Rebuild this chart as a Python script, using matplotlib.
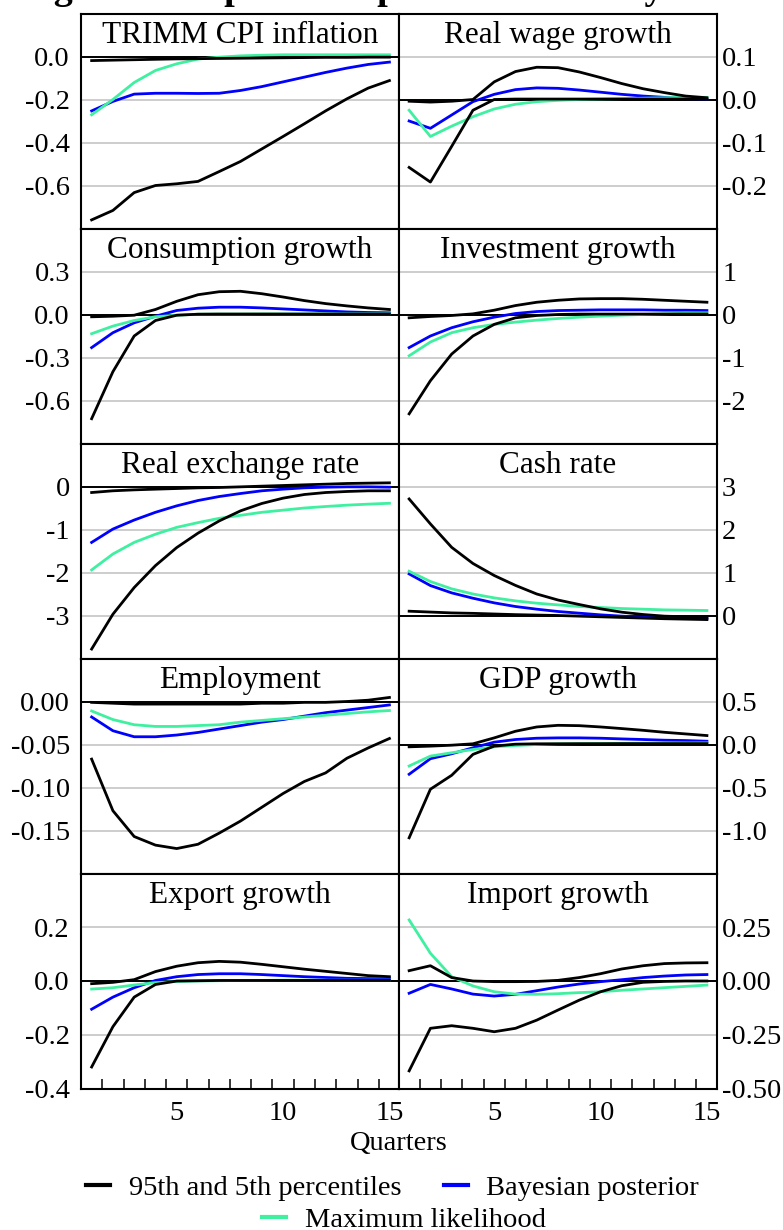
import numpy as np
import matplotlib
matplotlib.use("Agg")
import matplotlib.pyplot as plt
from matplotlib.lines import Line2D
from matplotlib.ticker import FormatStrFormatter

plt.rcParams["font.family"] = ["Liberation Serif", "DejaVu Serif"]
plt.rcParams["axes.unicode_minus"] = False

quarters = np.arange(1, 16)

# TRIMM CPI inflation
cpi_hi = [-0.019, -0.017, -0.015, -0.013, -0.011, -0.010, -0.009, -0.008, -0.007, -0.006, -0.005, -0.004, -0.004, -0.003, -0.003]
cpi_lo = [-0.76, -0.716, -0.633, -0.60, -0.592, -0.581, -0.535, -0.488, -0.43, -0.372, -0.313, -0.253, -0.197, -0.147, -0.112]
cpi_bay = [-0.253, -0.209, -0.175, -0.171, -0.171, -0.172, -0.171, -0.158, -0.14, -0.118, -0.096, -0.074, -0.054, -0.037, -0.026]
cpi_ml = [-0.271, -0.20, -0.121, -0.065, -0.034, -0.012, -0.003, 0.003, 0.006, 0.008, 0.008, 0.008, 0.008, 0.008, 0.008]

# Real wage growth
wage_hi = [-0.004, -0.006, -0.004, 0.0, 0.041, 0.065, 0.075, 0.074, 0.064, 0.051, 0.037, 0.025, 0.016, 0.008, 0.004]
wage_lo = [-0.158, -0.192, -0.109, -0.025, 0.0, 0.001, 0.001, 0.001, 0.001, 0.001, 0.001, 0.001, 0.001, 0.001, 0.001]
wage_bay = [-0.05, -0.067, -0.036, -0.005, 0.012, 0.023, 0.027, 0.026, 0.022, 0.017, 0.012, 0.008, 0.005, 0.002, 0.001]
wage_ml = [-0.025, -0.086, -0.062, -0.04, -0.022, -0.011, -0.005, -0.002, 0.0, 0.001, 0.002, 0.003, 0.004, 0.005, 0.005]

# Consumption growth
cons_hi = [-0.016, -0.012, -0.005, 0.035, 0.092, 0.138, 0.159, 0.162, 0.145, 0.122, 0.097, 0.076, 0.06, 0.046, 0.035]
cons_lo = [-0.727, -0.399, -0.15, -0.042, -0.005, 0.002, 0.003, 0.003, 0.003, 0.003, 0.003, 0.003, 0.003, 0.003, 0.003]
cons_bay = [-0.231, -0.127, -0.058, -0.012, 0.028, 0.044, 0.051, 0.051, 0.046, 0.039, 0.032, 0.025, 0.018, 0.014, 0.012]
cons_ml = [-0.134, -0.081, -0.042, -0.016, -0.005, 0.002, 0.003, 0.003, 0.004, 0.004, 0.004, 0.005, 0.005, 0.005, 0.005]

# Investment growth
inv_hi = [-0.077, -0.046, -0.023, 0.015, 0.10, 0.208, 0.285, 0.331, 0.362, 0.369, 0.369, 0.354, 0.331, 0.308, 0.285]
inv_lo = [-2.31, -1.54, -0.92, -0.50, -0.23, -0.077, -0.023, 0.0, 0.01, 0.01, 0.01, 0.01, 0.01, 0.01, 0.01]
inv_bay = [-0.77, -0.50, -0.308, -0.169, -0.062, 0.023, 0.069, 0.092, 0.10, 0.108, 0.108, 0.108, 0.10, 0.10, 0.092]
inv_ml = [-0.96, -0.64, -0.423, -0.308, -0.23, -0.177, -0.131, -0.092, -0.062, -0.038, -0.015, 0.0, 0.015, 0.03, 0.038]

# Real exchange rate
rer_hi = [-0.14, -0.10, -0.078, -0.062, -0.047, -0.031, -0.023, -0.008, 0.008, 0.023, 0.039, 0.054, 0.07, 0.078, 0.085]
rer_lo = [-3.78, -2.97, -2.35, -1.84, -1.42, -1.085, -0.80, -0.566, -0.395, -0.271, -0.186, -0.14, -0.116, -0.10, -0.10]
rer_bay = [-1.30, -0.99, -0.78, -0.60, -0.45, -0.326, -0.233, -0.163, -0.10, -0.062, -0.031, -0.016, -0.008, -0.008, -0.016]
rer_ml = [-1.94, -1.57, -1.30, -1.11, -0.95, -0.84, -0.74, -0.67, -0.60, -0.55, -0.50, -0.465, -0.434, -0.41, -0.39]

# Cash rate
cash_hi = [2.71, 2.13, 1.585, 1.21, 0.93, 0.70, 0.50, 0.36, 0.255, 0.155, 0.077, 0.023, -0.015, -0.03, -0.04]
cash_lo = [0.10, 0.08, 0.06, 0.05, 0.035, 0.02, 0.01, 0.0, -0.015, -0.03, -0.045, -0.06, -0.075, -0.085, -0.095]
cash_bay = [0.967, 0.696, 0.526, 0.402, 0.294, 0.209, 0.147, 0.093, 0.054, 0.015, -0.015, -0.039, -0.054, -0.062, -0.07]
cash_ml = [1.03, 0.79, 0.62, 0.50, 0.41, 0.34, 0.286, 0.247, 0.209, 0.186, 0.162, 0.147, 0.131, 0.124, 0.116]

# Employment
emp_hi = [-0.001, -0.002, -0.003, -0.003, -0.003, -0.003, -0.003, -0.003, -0.002, -0.002, -0.001, -0.001, 0.0, 0.0015, 0.0047]
emp_lo = [-0.067, -0.127, -0.157, -0.167, -0.171, -0.166, -0.153, -0.139, -0.123, -0.107, -0.093, -0.083, -0.066, -0.054, -0.043]
emp_bay = [-0.018, -0.034, -0.041, -0.041, -0.039, -0.036, -0.032, -0.028, -0.024, -0.021, -0.017, -0.013, -0.01, -0.007, -0.004]
emp_ml = [-0.011, -0.021, -0.027, -0.029, -0.029, -0.028, -0.027, -0.024, -0.022, -0.02, -0.018, -0.016, -0.014, -0.012, -0.0105]

# GDP growth
gdp_hi = [-0.027, -0.019, -0.008, 0.008, 0.077, 0.154, 0.204, 0.223, 0.219, 0.204, 0.185, 0.165, 0.142, 0.123, 0.104]
gdp_lo = [-1.085, -0.52, -0.358, -0.115, -0.019, 0.004, 0.008, 0.008, 0.009, 0.009, 0.01, 0.01, 0.01, 0.01, 0.01]
gdp_bay = [-0.346, -0.165, -0.108, -0.038, 0.027, 0.058, 0.073, 0.077, 0.077, 0.073, 0.065, 0.058, 0.05, 0.046, 0.038]
gdp_ml = [-0.25, -0.135, -0.096, -0.058, -0.027, -0.012, 0.0, 0.008, 0.01, 0.012, 0.013, 0.015, 0.016, 0.018, 0.019]

# Export growth
exp_hi = [-0.01, -0.005, 0.005, 0.035, 0.055, 0.068, 0.073, 0.07, 0.062, 0.053, 0.044, 0.036, 0.028, 0.02, 0.016]
exp_lo = [-0.32, -0.17, -0.06, -0.013, 0.0, 0.001, 0.002, 0.002, 0.002, 0.002, 0.002, 0.002, 0.002, 0.002, 0.002]
exp_bay = [-0.105, -0.06, -0.025, 0.002, 0.016, 0.024, 0.027, 0.027, 0.024, 0.02, 0.016, 0.013, 0.01, 0.009, 0.008]
exp_ml = [-0.03, -0.025, -0.015, -0.006, -0.002, 0.0, 0.001, 0.002, 0.002, 0.003, 0.003, 0.003, 0.003, 0.003, 0.003]

# Import growth
imp_hi = [0.048, 0.071, 0.016, 0.0, -0.003, -0.003, -0.002, 0.003, 0.016, 0.034, 0.056, 0.071, 0.081, 0.084, 0.085]
imp_lo = [-0.418, -0.22, -0.208, -0.22, -0.236, -0.22, -0.182, -0.135, -0.089, -0.05, -0.022, -0.006, -0.002, 0.0, 0.0]
imp_bay = [-0.057, -0.016, -0.037, -0.061, -0.07, -0.062, -0.045, -0.028, -0.014, -0.003, 0.006, 0.016, 0.023, 0.028, 0.03]
imp_ml = [0.284, 0.129, 0.02, -0.023, -0.05, -0.061, -0.062, -0.059, -0.054, -0.05, -0.043, -0.037, -0.031, -0.025, -0.019]

titles = ["TRIMM CPI inflation", "Real wage growth", "Consumption growth", "Investment growth",
          "Real exchange rate", "Cash rate", "Employment", "GDP growth",
          "Export growth", "Import growth"]
series = [(cpi_hi, cpi_lo, cpi_bay, cpi_ml), (wage_hi, wage_lo, wage_bay, wage_ml),
          (cons_hi, cons_lo, cons_bay, cons_ml), (inv_hi, inv_lo, inv_bay, inv_ml),
          (rer_hi, rer_lo, rer_bay, rer_ml), (cash_hi, cash_lo, cash_bay, cash_ml),
          (emp_hi, emp_lo, emp_bay, emp_ml), (gdp_hi, gdp_lo, gdp_bay, gdp_ml),
          (exp_hi, exp_lo, exp_bay, exp_ml), (imp_hi, imp_lo, imp_bay, imp_ml)]
ylims = [(-0.8, 0.2), (-0.3, 0.2), (-0.9, 0.6), (-3, 2), (-4, 1),
         (-1, 4), (-0.2, 0.05), (-1.5, 1.0), (-0.4, 0.4), (-0.5, 0.5)]
yticks = [[-0.6, -0.4, -0.2, 0.0], [-0.2, -0.1, 0.0, 0.1], [-0.6, -0.3, 0.0, 0.3],
          [-2, -1, 0, 1], [-3, -2, -1, 0], [0, 1, 2, 3],
          [-0.15, -0.10, -0.05, 0.00], [-1.0, -0.5, 0.0, 0.5],
          [-0.4, -0.2, 0.0, 0.2], [-0.50, -0.25, 0.00, 0.25]]
yfmt = ["%.1f", "%.1f", "%.1f", "%d", "%d", "%d", "%.2f", "%.1f", "%.1f", "%.2f"]

BLACK = "#000000"
BLUE = "#0000ff"
GREEN = "#3ff0a0"

W, H = 783, 1230
fig = plt.figure(figsize=(W / 100, H / 100), dpi=100)

col_x = [81, 398.5]
pw, ph, top0 = 318, 215, 13.5

for i, title in enumerate(titles):
    row, col = divmod(i, 2)
    ax = fig.add_axes([col_x[col] / W, 1 - (top0 + (row + 1) * ph) / H, pw / W, ph / H])
    hi, lo, bay, ml = series[i]
    ax.plot(quarters, bay, color=BLUE, lw=2.0, zorder=3)
    ax.plot(quarters, ml, color=GREEN, lw=2.0, zorder=4)
    ax.plot(quarters, hi, color=BLACK, lw=2.0, zorder=5)
    ax.plot(quarters, lo, color=BLACK, lw=2.0, zorder=5)
    ax.axhline(0, color="black", lw=1.4, zorder=2)
    ax.set_xlim(0.5, 15.45)
    ax.set_ylim(*ylims[i])
    ax.set_yticks(yticks[i])
    ax.yaxis.set_major_formatter(FormatStrFormatter(yfmt[i]))
    ax.grid(axis="y", color="#c0c0c0", lw=1.1, zorder=1)
    ax.set_axisbelow(True)
    for s in ax.spines.values():
        s.set_linewidth(1.5)
    if col == 1:
        ax.yaxis.tick_right()
        ax.tick_params(axis="y", length=0, pad=4, labelsize=20.5)
    else:
        ax.tick_params(axis="y", length=0, pad=8, labelsize=20.5)
    if row == 4:
        ax.set_xticks([5, 10, 15])
        ax.set_xticks(np.arange(1.5, 15, 1.0), minor=True)
        ax.tick_params(axis="x", which="major", length=0, pad=9, labelsize=20.5)
        ax.tick_params(axis="x", which="minor", direction="in", length=7.5, width=1.1)
    else:
        ax.set_xticks([])
    ax.text(0.5, 1 - 29.5 / ph, title, transform=ax.transAxes, ha="center",
            va="baseline", fontsize=22.5, zorder=6)

# figure heading, cropped in the source so only descenders show
fig.text(20 / W, 1 + 1 / H, "Figure 4: Impulse Responses to a Policy Shock",
         ha="left", va="baseline", fontsize=27.4, fontweight="bold")

fig.text(398.5 / W, 1 - 1143 / H, "Quarters", ha="center", va="center", fontsize=20.5)

h1 = [Line2D([], [], color=BLACK, lw=3), Line2D([], [], color=BLUE, lw=3)]
fig.legend(h1, ["95th and 5th percentiles", "Bayesian posterior"], ncol=2,
           loc="center", bbox_to_anchor=(392.5 / W, 1 - 1188 / H), frameon=False,
           fontsize=20.5, handlelength=0.85, handletextpad=0.65, columnspacing=1.5,
           borderpad=0, borderaxespad=0)
h2 = [Line2D([], [], color=GREEN, lw=3)]
fig.legend(h2, ["Maximum likelihood"], loc="center",
           bbox_to_anchor=(404 / W, 1 - 1220 / H), frameon=False,
           fontsize=20.5, handlelength=0.85, handletextpad=0.65,
           borderpad=0, borderaxespad=0)

fig.savefig("out.png", dpi=100)
